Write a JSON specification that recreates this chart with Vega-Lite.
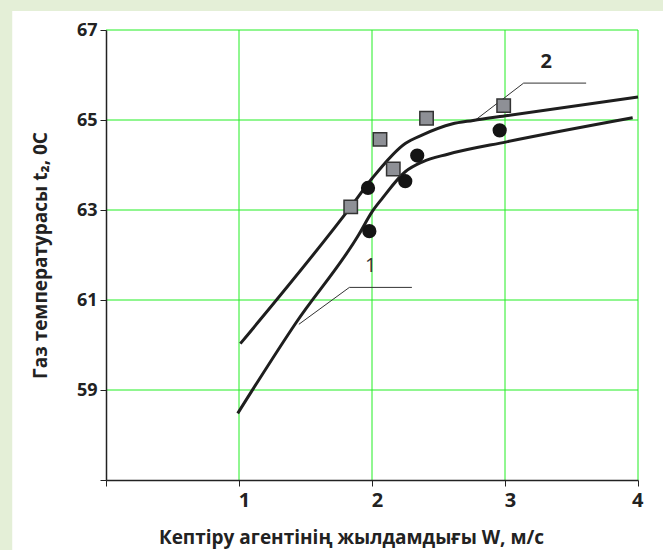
{
  "$schema": "https://vega.github.io/schema/vega-lite/v6.json",
  "width": 532,
  "height": 450,
  "autosize": "none",
  "padding": {"left": 106, "top": 30, "right": 25, "bottom": 70},
  "background": "#e4efd7",
  "config": {
    "view": {"stroke": null},
    "font": "Open Sans"
  },
  "datasets": {
    "curves": [
      {"curve": "1", "w": 0.99, "t": 58.48},
      {"curve": "1", "w": 1.43, "t": 60.5},
      {"curve": "1", "w": 1.9, "t": 62.45},
      {"curve": "1", "w": 2.0, "t": 62.96},
      {"curve": "1", "w": 2.08, "t": 63.27},
      {"curve": "1", "w": 2.25, "t": 63.85},
      {"curve": "1", "w": 2.38, "t": 64.07},
      {"curve": "1", "w": 2.57, "t": 64.24},
      {"curve": "1", "w": 3.02, "t": 64.52},
      {"curve": "1", "w": 3.96, "t": 65.05},
      {"curve": "2", "w": 1.01, "t": 60.03},
      {"curve": "2", "w": 1.84, "t": 63.07},
      {"curve": "2", "w": 2.0, "t": 63.7},
      {"curve": "2", "w": 2.25, "t": 64.48},
      {"curve": "2", "w": 2.38, "t": 64.67},
      {"curve": "2", "w": 2.6, "t": 64.91},
      {"curve": "2", "w": 2.76, "t": 64.99},
      {"curve": "2", "w": 3.02, "t": 65.1},
      {"curve": "2", "w": 4.0, "t": 65.51}
    ],
    "squares": [
      {"w": 1.84, "t": 63.07},
      {"w": 2.06, "t": 64.57},
      {"w": 2.16, "t": 63.91},
      {"w": 2.41, "t": 65.04},
      {"w": 2.99, "t": 65.32}
    ],
    "circles": [
      {"w": 1.97, "t": 63.49},
      {"w": 1.98, "t": 62.53},
      {"w": 2.25, "t": 63.64},
      {"w": 2.34, "t": 64.21},
      {"w": 2.96, "t": 64.77}
    ],
    "leaders": [
      {"id": "1", "order": 1, "w": 1.45, "t": 60.46},
      {"id": "1", "order": 2, "w": 1.83, "t": 61.28},
      {"id": "1", "order": 3, "w": 2.3, "t": 61.28},
      {"id": "2", "order": 1, "w": 2.76, "t": 64.96},
      {"id": "2", "order": 2, "w": 3.14, "t": 65.82},
      {"id": "2", "order": 3, "w": 3.61, "t": 65.82}
    ],
    "labels": [
      {"text": "1", "w": 1.99, "t": 61.75},
      {"text": "2", "w": 3.31, "t": 66.29}
    ],
    "gridx": [{"v": 1}, {"v": 2}, {"v": 3}, {"v": 4}],
    "gridy": [{"v": 59}, {"v": 61}, {"v": 63}, {"v": 65}, {"v": 67}]
  },
  "layer": [
    {
      "data": {"values": [{}]},
      "mark": {"type": "rect", "fill": "white", "clip": false},
      "encoding": {
        "x": {"datum": -0.705, "type": "quantitative", "scale": {"domain": [0, 4], "nice": false, "zero": false}},
        "x2": {"datum": 4.6},
        "y": {"datum": 67.42, "type": "quantitative", "scale": {"domain": [57, 67], "nice": false, "zero": false}},
        "y2": {"datum": 54}
      }
    },
    {
      "data": {"name": "gridx"},
      "mark": {"type": "rule", "color": "#22ee22", "strokeWidth": 1},
      "encoding": {"x": {"field": "v", "type": "quantitative"}}
    },
    {
      "data": {"name": "gridy"},
      "mark": {"type": "rule", "color": "#22ee22", "strokeWidth": 1},
      "encoding": {"y": {"field": "v", "type": "quantitative"}}
    },
    {
      "data": {"name": "leaders"},
      "mark": {"type": "line", "color": "#333333", "strokeWidth": 1},
      "encoding": {
        "x": {"field": "w", "type": "quantitative"},
        "y": {"field": "t", "type": "quantitative"},
        "detail": {"field": "id"},
        "order": {"field": "order"}
      }
    },
    {
      "data": {"name": "curves"},
      "mark": {"type": "line", "color": "#1e1e1e", "strokeWidth": 3, "interpolate": "monotone"},
      "encoding": {
        "x": {
          "field": "w", "type": "quantitative",
          "axis": {
            "values": [0, 1, 2, 3, 4],
            "format": "d",
            "labelExpr": "datum.value == 0 ? '' : datum.label",
            "title": "Кептіру агентінің жылдамдығы W, м/с",
            "grid": false,
            "zindex": 1,
            "domainColor": "#222222",
            "domainWidth": 1.5,
            "tickColor": "#222222",
            "tickSize": 6,
            "labelFont": "Open Sans",
            "labelFontSize": 20,
            "labelFontWeight": "bold",
            "labelColor": "#222222",
            "labelPadding": 14,
            "labelBaseline": "middle",
            "labelOffset": 5,
            "titleFont": "Open Sans",
            "titleFontSize": 19,
            "titleFontWeight": "bold",
            "titleColor": "#222222",
            "titleX": 245,
            "titleY": 57,
            "titleBaseline": "middle",
            "titleAlign": "center"
          }
        },
        "y": {
          "field": "t", "type": "quantitative",
          "axis": {
            "values": [57, 59, 61, 63, 65, 67],
            "labelExpr": "datum.value == 57 ? '' : datum.label",
            "title": "Газ температурасы t₂, 0С",
            "grid": false,
            "zindex": 1,
            "domainColor": "#222222",
            "domainWidth": 1.5,
            "tickColor": "#222222",
            "tickSize": 6,
            "labelFont": "Open Sans",
            "labelFontSize": 18,
            "labelFontWeight": "bold",
            "labelColor": "#222222",
            "labelPadding": 3,
            "titleFont": "Open Sans",
            "titleFontSize": 19,
            "titleFontWeight": "bold",
            "titleColor": "#222222",
            "titleAngle": 270,
            "titleX": -66,
            "titleY": 225,
            "titleBaseline": "middle",
            "titleAlign": "center"
          }
        },
        "detail": {"field": "curve"}
      }
    },
    {
      "data": {"name": "squares"},
      "mark": {"type": "point", "shape": "square", "filled": true, "fill": "#8e9096", "stroke": "#333333", "strokeWidth": 1.5, "size": 180, "opacity": 1},
      "encoding": {
        "x": {"field": "w", "type": "quantitative"},
        "y": {"field": "t", "type": "quantitative"}
      }
    },
    {
      "data": {"name": "circles"},
      "mark": {"type": "point", "shape": "circle", "filled": true, "fill": "#141414", "stroke": "#141414", "size": 150, "opacity": 1},
      "encoding": {
        "x": {"field": "w", "type": "quantitative"},
        "y": {"field": "t", "type": "quantitative"}
      }
    },
    {
      "data": {"name": "labels"},
      "transform": [{"filter": "datum.text == '1'"}],
      "mark": {"type": "text", "font": "Open Sans", "fontSize": 20, "fontWeight": "normal", "color": "#333333"},
      "encoding": {
        "x": {"field": "w", "type": "quantitative"},
        "y": {"field": "t", "type": "quantitative"},
        "text": {"field": "text"}
      }
    },
    {
      "data": {"name": "labels"},
      "transform": [{"filter": "datum.text == '2'"}],
      "mark": {"type": "text", "font": "Open Sans", "fontSize": 20, "fontWeight": "bold", "color": "#222222"},
      "encoding": {
        "x": {"field": "w", "type": "quantitative"},
        "y": {"field": "t", "type": "quantitative"},
        "text": {"field": "text"}
      }
    }
  ]
}
